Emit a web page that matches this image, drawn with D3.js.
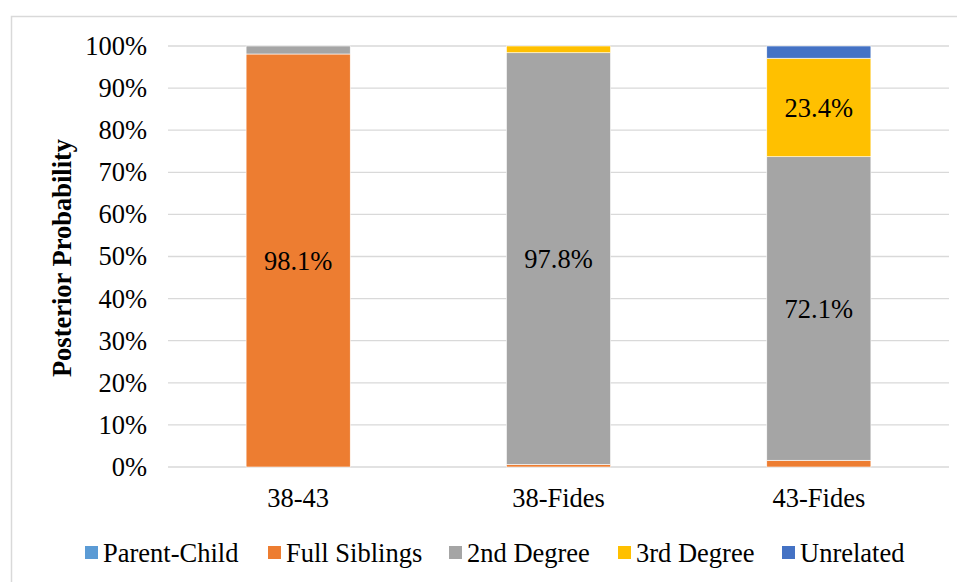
<!DOCTYPE html>
<html>
<head>
<meta charset="utf-8">
<script src="https://cdn.jsdelivr.net/npm/d3@7"></script>
<style>
  body { margin: 0; background: #fff; }
  svg text { font-family: "Liberation Serif", "Times New Roman", serif !important; fill: #000; }
</style>
</head>
<body>
<svg id="chart" width="957" height="582"></svg>
<script>
const categories = ["38-43", "38-Fides", "43-Fides"];
const seriesNames = ["Parent-Child", "Full Siblings", "2nd Degree", "3rd Degree", "Unrelated"];
const colors = ["#5B9BD5", "#ED7D31", "#A5A5A5", "#FFC000", "#4472C4"];
// percent per category, in series order
const parentChild = [0.0, 0.0, 0.0];
const fullSiblings = [98.1, 0.6, 1.6];
const secondDegree = [1.9, 97.8, 72.1];
const thirdDegree = [0.0, 1.6, 23.4];
const unrelated = [0.0, 0.0, 2.9];
const yTicks = [0, 10, 20, 30, 40, 50, 60, 70, 80, 90, 100];
const labelMin = 10; // only label segments bigger than this

const values = [parentChild, fullSiblings, secondDegree, thirdDegree, unrelated];
const rows = categories.map((c, i) => {
    const r = { cat: c };
    seriesNames.forEach((s, j) => { r[s] = values[j][i]; });
    return r;
});

const FONT = "26.5px";
const svg = d3.select("#chart");
const margin = { top: 46, right: 8, bottom: 115, left: 168 };
const width = 949 - margin.left;
const height = 467 - margin.top;

// outer frame
svg.append("rect")
    .attr("x", 11.5).attr("y", 16.5)
    .attr("width", 960).attr("height", 600)
    .attr("fill", "none").attr("stroke", "#d9d9d9").attr("stroke-width", 1.5);

const g = svg.append("g").attr("transform", `translate(${margin.left},${margin.top})`);

const x = d3.scaleBand().domain(categories).range([0, width]).paddingInner(0.6).paddingOuter(0.3);
const y = d3.scaleLinear().domain([0, 100]).range([height, 0]);

// gridlines
g.selectAll(".grid").data(yTicks).enter().append("line")
    .attr("x1", 0).attr("x2", width)
    .attr("y1", d => y(d)).attr("y2", d => y(d))
    .attr("stroke", "#d9d9d9").attr("stroke-width", 1.3);

// y axis labels
const yAxis = g.append("g")
    .call(d3.axisLeft(y).tickValues(yTicks).tickFormat(d => d + "%").tickSize(0).tickPadding(21));
yAxis.select(".domain").remove();
yAxis.selectAll("text").style("font-size", FONT);

// x axis labels
const xAxis = g.append("g").attr("transform", `translate(0,${height})`)
    .call(d3.axisBottom(x).tickSize(0).tickPadding(21));
xAxis.select(".domain").remove();
xAxis.selectAll("text").style("font-size", FONT);

// stacked bars
const stack = d3.stack().keys(seriesNames)(rows);
const layer = g.selectAll(".layer").data(stack).enter().append("g")
    .attr("fill", (d, i) => colors[i]);
layer.selectAll("rect").data(d => d).enter().append("rect")
    .attr("x", d => x(d.data.cat))
    .attr("width", x.bandwidth())
    .attr("y", d => y(d[1]))
    .attr("height", d => Math.max(0, y(d[0]) - y(d[1])))
    .attr("stroke", "#fff").attr("stroke-width", 0.6);

// segment labels
stack.forEach(s => {
    s.forEach(d => {
        const v = d[1] - d[0];
        if (v < labelMin) return;
        g.append("text")
            .attr("x", x(d.data.cat) + x.bandwidth() / 2)
            .attr("y", y((d[0] + d[1]) / 2))
            .attr("dy", "0.35em")
            .attr("text-anchor", "middle")
            .style("font-size", FONT)
            .text(v.toFixed(1) + "%");
    });
});

// y title
svg.append("text")
    .attr("transform", "translate(71,258) rotate(-90)")
    .attr("text-anchor", "middle")
    .style("font-size", FONT).style("font-weight", "bold")
    .text("Posterior Probability");

// legend
const legendX = [85, 268, 449, 618, 782];
const legend = svg.selectAll(".leg").data(seriesNames).enter().append("g")
    .attr("transform", (d, i) => `translate(${legendX[i]},546)`);
legend.append("rect").attr("width", 13).attr("height", 13).attr("fill", (d, i) => colors[i]);
legend.append("text").attr("x", 18).attr("y", 7).attr("dy", "0.35em")
    .style("font-size", FONT).text(d => d);
</script>
</body>
</html>
